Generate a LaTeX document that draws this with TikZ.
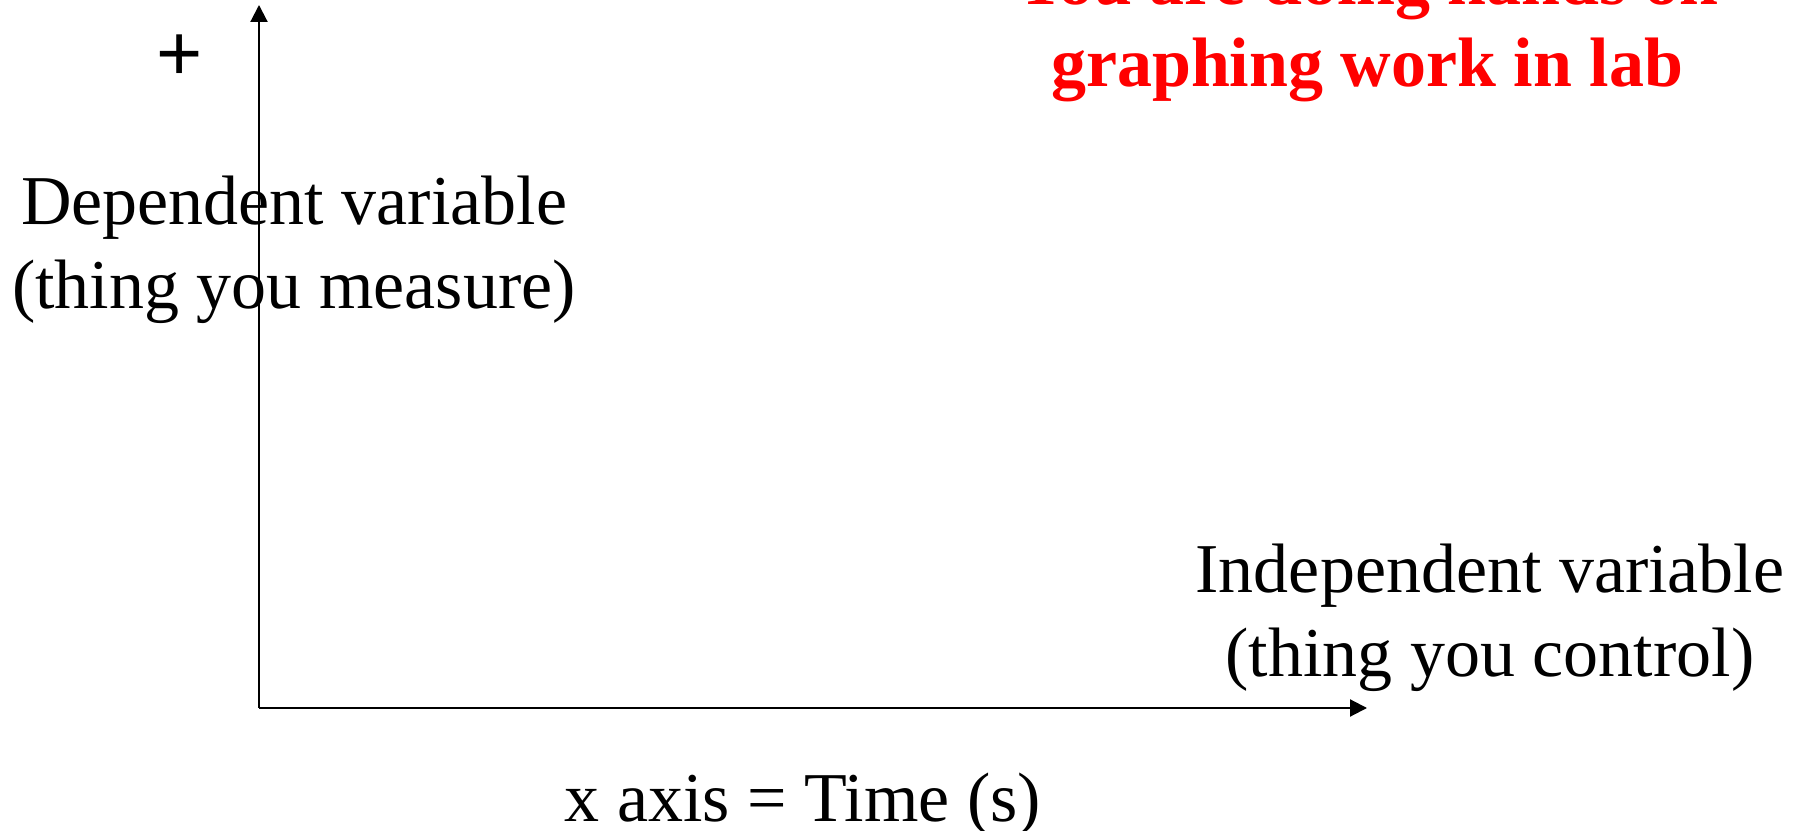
\documentclass[tikz,border=0pt]{standalone}
\usepackage{fontspec}
\setmainfont{Liberation Serif}
\newfontfamily\plusfont{Liberation Sans}
\usepackage{tikz}
\usetikzlibrary{arrows.meta, positioning}
\definecolor{labred}{RGB}{255,0,0}
\tikzset{
  axis/.style={-{Triangle[length=0.17cm, width=0.17cm]}, line width=0.6pt, color=black},
  lbl/.style={anchor=base, inner sep=0pt, font=\fontsize{19.9pt}{24pt}\selectfont},
  redlbl/.style={anchor=base, inner sep=0pt, color=labred,
    font=\fontsize{19.9pt}{24pt}\selectfont\bfseries}
}
\begin{document}
\begin{tikzpicture}[x=0.01cm, y=-0.01cm]
  \useasboundingbox (0,0) rectangle (1809,831);
  % Axes
  \coordinate (origin) at (259,708);
  \coordinate (ytip) at (259,5);
  \coordinate (xtip) at (1367,708);
  \draw[axis] (origin) -- (ytip);
  \draw[axis] (origin) -- (xtip);
  % Sign on y axis
  \node[inner sep=0pt, font=\fontsize{22.5pt}{26pt}\plusfont] (plus) at (180,58) {+};
  % y axis label
  \node[lbl] (dep1) at (294,225) {Dependent variable};
  \node[lbl] (dep2) at (294,309) {(thing you measure)};
  % x axis label
  \node[lbl] (ind1) at (1490,593) {Independent variable};
  \node[lbl] (ind2) at (1490,677) {(thing you control)};
  \node[lbl] (time) at (803,821) {x axis = Time (s)};
  % Note (cut off at top)
  \node[redlbl] (note1) at (1367,5) {You are doing hands on};
  \node[redlbl] (note2) at (1367,87) {graphing work in lab};
\end{tikzpicture}
\end{document}
